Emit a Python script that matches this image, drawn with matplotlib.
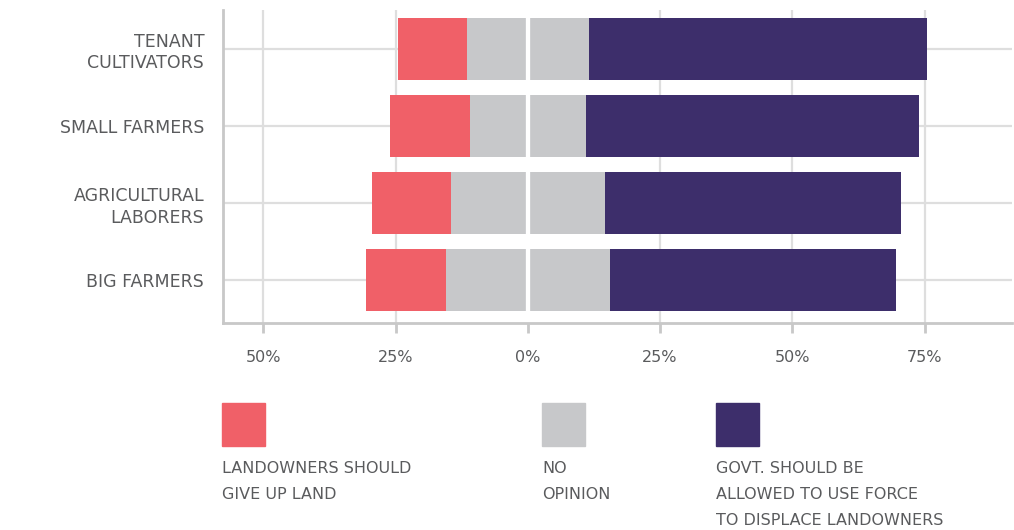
import numpy as np
import matplotlib
matplotlib.use("Agg")
import matplotlib.pyplot as plt
from matplotlib.patches import Rectangle

# data (percent of respondents)
groups = ["TENANT\nCULTIVATORS", "SMALL FARMERS", "AGRICULTURAL\nLABORERS", "BIG FARMERS"]
give_up = [13, 15, 15, 15]
no_opinion = [23, 22, 29, 31]
use_force = [64, 63, 56, 54]

tick_vals = [-50, -25, 0, 25, 50, 75]
tick_labels = ["50%", "25%", "0%", "25%", "50%", "75%"]

legend_labels = ["LANDOWNERS SHOULD\nGIVE UP LAND", "NO\nOPINION",
                 "GOVT. SHOULD BE\nALLOWED TO USE FORCE\nTO DISPLACE LANDOWNERS"]

red = "#F06068"
grey = "#C7C8CA"
purple = "#3D2E6B"
txt = "#5A5B5D"
spine_c = "#C8C8C8"
grid_c = "#DEDEDE"

plt.rcParams['font.family'] = ['DejaVu Sans']

W, H = 1014, 530
fig = plt.figure(figsize=(W / 100, H / 100), dpi=100)
ax = fig.add_axes([223 / W, 1 - 323 / H, (1012 - 223) / W, (323 - 10) / H])

y = np.arange(len(groups))
give_up = np.array(give_up, float)
no_opinion = np.array(no_opinion, float)
use_force = np.array(use_force, float)
h = 0.805

left_grey = -no_opinion / 2
ax.barh(y, give_up, left=left_grey - give_up, height=h, color=red, zorder=3)
ax.barh(y, no_opinion, left=left_grey, height=h, color=grey, zorder=3)
ax.barh(y, use_force, left=no_opinion / 2, height=h, color=purple, zorder=3)
# white split at zero through the bars
ax.vlines(np.zeros(len(y)), y - h / 2, y + h / 2, color="white", lw=3.1, zorder=4)

ax.set_xlim(-57.6, 91.5)
ax.set_ylim(3.558, -0.506)

ax.set_xticks(tick_vals)
ax.set_xticklabels(tick_labels, fontsize=11.5, color=txt)
ax.set_yticks(y)
ax.set_yticklabels(groups, fontsize=12.5, color=txt, linespacing=1.25)

ax.tick_params(axis='x', length=7.5, width=2, color=spine_c, pad=12)
ax.tick_params(axis='y', length=0, pad=13.5)

ax.grid(True, axis='both', color=grid_c, lw=1.6, zorder=0)
for v, gl in zip(tick_vals, ax.xaxis.get_gridlines()):
    if v == 0:
        gl.set_visible(False)

for s in ["top", "right"]:
    ax.spines[s].set_visible(False)
for s in ["left", "bottom"]:
    ax.spines[s].set_color(spine_c)
    ax.spines[s].set_linewidth(2)

# legend: swatches + labels under them
swatch_x = [222, 542, 716]
for lx, col, lab in zip(swatch_x, [red, grey, purple], legend_labels):
    fig.patches.append(Rectangle((lx / W, 1 - 446 / H), 43 / W, 43 / H,
                                 transform=fig.transFigure, color=col))
    fig.text(lx / W, 1 - 461 / H, lab, ha="left", va="top", fontsize=11.5,
             color=txt, linespacing=1.9)

fig.savefig("out.png", dpi=100)
